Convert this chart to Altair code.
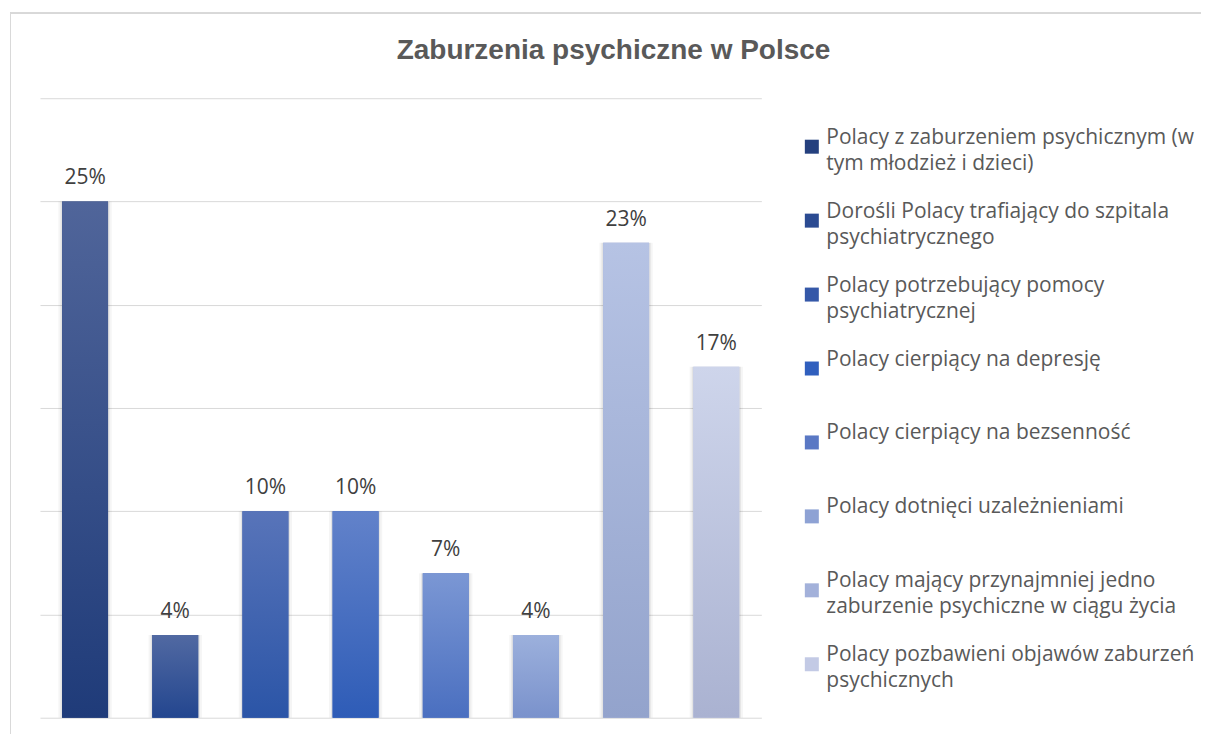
import altair as alt
import pandas as pd

chart_title = "Zaburzenia psychiczne w Polsce"

legend_lines = [
    ["Polacy z zaburzeniem psychicznym (w", "tym młodzież i dzieci)"],
    ["Dorośli Polacy trafiający do szpitala", "psychiatrycznego"],
    ["Polacy potrzebujący pomocy", "psychiatrycznej"],
    ["Polacy cierpiący na depresję"],
    ["Polacy cierpiący na bezsenność"],
    ["Polacy dotnięci uzależnieniami"],
    ["Polacy mający przynajmniej jedno", "zaburzenie psychiczne w ciągu życia"],
    ["Polacy pozbawieni objawów zaburzeń", "psychicznych"],
]
values = [25, 4, 10, 10, 7, 4, 23, 17]

legend_colors = ["#25407e", "#2b4b92", "#3558a8", "#305fbe", "#5a78c4", "#8ea2d4", "#a3b1da", "#c3cae5"]
grad_top = ["#50659a", "#5169a2", "#5874b9", "#6282ca", "#7b97d4", "#9cb0dc", "#b6c3e4", "#ced5eb"]
grad_bottom = ["#1f3b79", "#23468f", "#2b55a7", "#2e5cb7", "#4a6fc0", "#7a92cc", "#93a3cc", "#aab2d1"]
grid_values = [0, 5, 10, 15, 20, 25, 30]

cats = ["|".join(l) for l in legend_lines]
df = pd.DataFrame({
    "cat": cats,
    "idx": list(range(len(cats))),
    "value": values,
    "label": [f"{v}%" for v in values],
})

x_enc = alt.X("cat:N", sort=None, axis=None,
              scale=alt.Scale(domain=cats, paddingInner=0.49, paddingOuter=0.245))
y_enc = alt.Y("value:Q", scale=alt.Scale(domain=[0, 30]),
              axis=alt.Axis(values=grid_values, grid=True, labels=False, ticks=False,
                            domain=False, title=None, gridColor="#d9d9d9", gridWidth=1))

# outer chart frame (decoration only)
frame = alt.Chart(df).mark_rect(filled=False, stroke="#d9d9d9", strokeWidth=1).encode(
    x=alt.value(-29.5), x2=alt.value(1300), y=alt.value(-85.5), y2=alt.value(800)
)

# soft shadow around bars
shadow_outer = alt.Chart(df).mark_bar(color="#000000", opacity=0.04, width={"band": 1.16}).encode(
    x=x_enc, y=y_enc)
shadow_inner = alt.Chart(df).mark_bar(color="#000000", opacity=0.07, width={"band": 1.07}).encode(
    x=x_enc, y=y_enc)

base = alt.Chart(df).mark_bar().encode(
    x=x_enc,
    y=y_enc,
    color=alt.Color("cat:N", sort=None,
                    scale=alt.Scale(domain=cats, range=legend_colors),
                    legend=alt.Legend(
                        title=None, orient="none", legendX=762, legendY=35,
                        symbolType="M-1,-0.57H1V1.43H-1Z", symbolSize=196, symbolStrokeWidth=0,
                        symbolOpacity=1,
                        labelFont="Open Sans", labelFontSize=21, labelColor="#595959",
                        labelBaseline="alphabetic", labelOffset=4, labelLimit=500,
                        labelExpr="split(datum.label, '|')",
                        gridAlign="all", rowPadding=26, padding=0,
                    )),
)

overlays = []
for i in range(len(cats)):
    overlays.append(
        alt.Chart(df).transform_filter(alt.datum.idx == i).mark_bar(
            color=alt.LinearGradient(
                gradient="linear",
                stops=[alt.GradientStop(color=grad_top[i], offset=0),
                       alt.GradientStop(color=grad_bottom[i], offset=1)],
                x1=0, x2=0, y1=0, y2=1,
            )
        ).encode(x=x_enc, y=y_enc)
    )

labels = alt.Chart(df).mark_text(
    baseline="alphabetic", dy=-17, fontSize=21, font="Open Sans", color="#404040"
).encode(x=x_enc, y=y_enc, text="label:N")

chart = alt.layer(frame, shadow_outer, shadow_inner, base, *overlays, labels).properties(
    width=722,
    height=620,
    title=alt.TitleParams(
        text=chart_title, font="Liberation Sans", fontSize=28, fontWeight="bold",
        color="#595959", anchor="middle", frame="group", dx=213, offset=0, dy=75,
        baseline="alphabetic",
    ),
    padding={"left": 32, "top": 90, "right": 440, "bottom": 16},
    autosize=alt.AutoSizeParams(type="none"),
).configure(
    style={"guide-label": {"lineHeight": 26}}
).configure_view(stroke=None)

chart.save("out.html", embed_options={"renderer": "svg", "actions": False})
